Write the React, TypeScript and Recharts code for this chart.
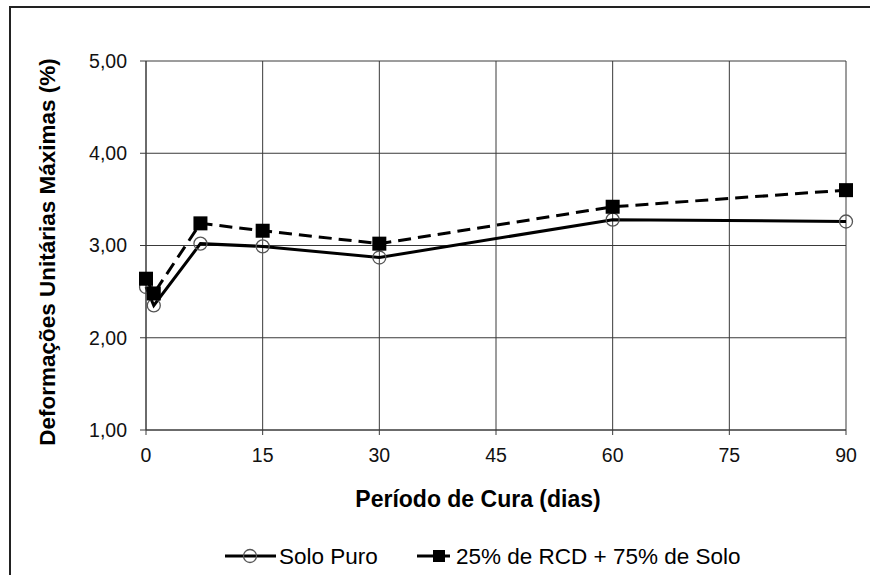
import React from 'react';
import { LineChart, Line, XAxis, YAxis, CartesianGrid, Legend } from 'recharts';

const dias = [0, 1, 7, 15, 30, 60, 90];
const soloPuro = [2.55, 2.35, 3.02, 2.99, 2.87, 3.28, 3.26];
const rcdSolo = [2.64, 2.48, 3.24, 3.16, 3.02, 3.42, 3.6];
const xTicks = [0, 15, 30, 45, 60, 75, 90];
const yTicks = [1, 2, 3, 4, 5];
const seriesNames = ['Solo Puro', '25% de RCD + 75% de Solo'];
const xTitle = 'Período de Cura (dias)';
const yTitle = 'Deformações Unitárias Máximas (%)';

const data = dias.map((d, i) => ({ dia: d, solo: soloPuro[i], rcd: rcdSolo[i] }));

const FONT = '"Liberation Sans", Arial, sans-serif';
const GRID = '#3a3a3a';

const CircleDot = (props: any) => {
  const { cx, cy } = props;
  if (cx == null || cy == null) return null;
  return <circle cx={cx} cy={cy} r={6.5} fill="none" stroke="#555" strokeWidth={1.3} />;
};

const SquareDot = (props: any) => {
  const { cx, cy } = props;
  if (cx == null || cy == null) return null;
  return <rect x={cx - 7} y={cy - 7} width={14} height={14} fill="#000" />;
};

const LegendContent = () => (
  <svg width={870} height={40} style={{ display: 'block' }}>
    <line x1={225} y1={20} x2={276} y2={20} stroke="#000" strokeWidth={3} />
    <circle cx={250} cy={20} r={6.5} fill="none" stroke="#555" strokeWidth={1.3} />
    <text x={279} y={20} dominantBaseline="central" fontFamily={FONT} fontSize={22.5} fill="#000">
      {seriesNames[0]}
    </text>
    <line x1={417} y1={20} x2={433} y2={20} stroke="#000" strokeWidth={3} />
    <line x1={445} y1={20} x2={450} y2={20} stroke="#000" strokeWidth={3} />
    <rect x={433} y={14} width={12} height={12} fill="#000" />
    <text x={456} y={20} dominantBaseline="central" fontFamily={FONT} fontSize={22.5} fill="#000">
      {seriesNames[1]}
    </text>
  </svg>
);

export default function App() {
  return (
    <div
      style={{
        position: 'absolute',
        left: 0,
        top: 0,
        width: 870,
        height: 575,
        overflow: 'hidden',
        background: '#fff',
      }}
    >
      <div
        style={{
          position: 'absolute',
          left: 9,
          top: 6,
          width: 861,
          height: 569,
          borderLeft: '2px solid #222',
          borderTop: '2px solid #222',
          boxSizing: 'border-box',
        }}
      />
      <div style={{ position: 'absolute', left: 0, top: 0 }}>
        <LineChart
          width={870}
          height={575}
          data={data}
          margin={{ top: 61, right: 24, bottom: 105, left: 0 }}
        >
          <CartesianGrid stroke={GRID} strokeWidth={1} />
          <XAxis
            dataKey="dia"
            type="number"
            domain={[0, 90]}
            ticks={xTicks}
            height={40}
            stroke={GRID}
            tickSize={5}
            tickMargin={13}
            tick={{ fill: '#111', fontSize: 19.5, fontFamily: FONT }}
            label={{
              content: () => (
                <text
                  x={478}
                  y={507}
                  textAnchor="middle"
                  fontFamily={FONT}
                  fontSize={23}
                  fontWeight="bold"
                  fill="#000"
                >
                  {xTitle}
                </text>
              ),
            }}
          />
          <YAxis
            type="number"
            domain={[1, 5]}
            ticks={yTicks}
            width={146}
            stroke={GRID}
            tickSize={6}
            tickMargin={13}
            tickFormatter={(v: number) => v.toFixed(2).replace('.', ',')}
            tick={{ fill: '#111', fontSize: 19.5, fontFamily: FONT }}
            label={{
              content: () => (
                <text
                  x={47}
                  y={252}
                  transform="rotate(-90 47 252)"
                  textAnchor="middle"
                  dominantBaseline="central"
                  fontFamily={FONT}
                  fontSize={22.5}
                  fontWeight="bold"
                  fill="#000"
                >
                  {yTitle}
                </text>
              ),
            }}
          />
          <Legend
            layout="horizontal"
            verticalAlign="middle"
            align="center"
            wrapperStyle={{ position: 'absolute', left: 0, top: 536, width: 870, height: 40 }}
            content={() => <LegendContent />}
          />
          <Line
            dataKey="solo"
            name={seriesNames[0]}
            type="linear"
            stroke="#000"
            strokeWidth={3}
            dot={<CircleDot />}
            activeDot={false}
            isAnimationActive={false}
          />
          <Line
            dataKey="rcd"
            name={seriesNames[1]}
            type="linear"
            stroke="#000"
            strokeWidth={3}
            strokeDasharray="13 7"
            dot={<SquareDot />}
            activeDot={false}
            isAnimationActive={false}
          />
        </LineChart>
      </div>
    </div>
  );
}
